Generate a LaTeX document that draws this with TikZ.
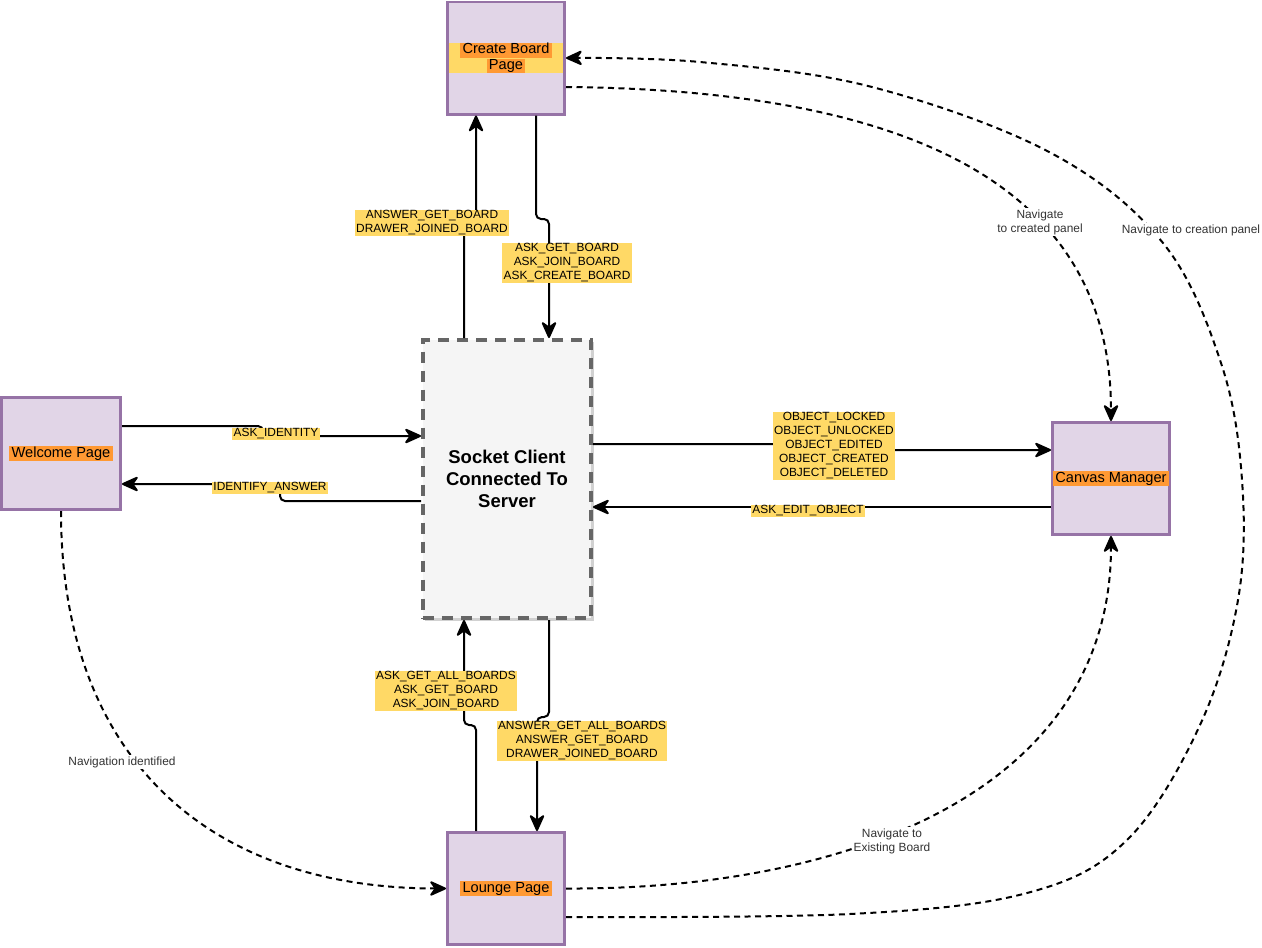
\documentclass[tikz,border=0pt]{standalone}
\usepackage{fontspec}
\setmainfont{Liberation Sans}
\usetikzlibrary{arrows.meta,shadows}

\definecolor{pagefill}{HTML}{E1D5E7}
\definecolor{pageline}{HTML}{9673A6}
\definecolor{hlorange}{HTML}{FF9933}
\definecolor{tagfill}{HTML}{FFD966}
\definecolor{sockfill}{HTML}{F5F5F5}
\definecolor{sockline}{HTML}{666666}
\definecolor{notetext}{HTML}{333333}

\newcommand\tagtext{\fontsize{11.9}{14}\selectfont}
\newcommand\pgtext{\fontsize{14.6}{14}\selectfont}
\newcommand\orangehl[1]{{\setlength{\fboxsep}{0pt}\colorbox{hlorange}{\rule[-3.6pt]{0pt}{14.4pt}\,#1\,}}}

\tikzset{
  tip/.tip={Stealth[length=19pt, width=17pt, inset=6pt, round=false]},
  page/.style={draw=pageline, fill=pagefill, line width=2.6pt,
    minimum width=117.4pt, minimum height=112.4pt, inner sep=0pt, font=\pgtext},
  socket/.style={draw=sockline, fill=sockfill, line width=3.6pt,
    dash pattern=on 11pt off 8pt, minimum width=168.4pt, minimum height=278.4pt,
    align=center, font=\fontsize{18.5}{22}\selectfont\bfseries,
    drop shadow={shadow xshift=2.5pt, shadow yshift=-2.5pt, opacity=0.18, fill=black}},
  conn/.style={line width=2pt, -tip},
  nav/.style={line width=2pt, dash pattern=on 6pt off 4.5pt, -tip},
  tag/.style={fill=tagfill, inner xsep=1.5pt, inner ysep=1pt, align=center, font=\tagtext},
  note/.style={fill=white, inner sep=1pt, align=center, font=\tagtext, text=notetext},
}

\begin{document}
\begin{tikzpicture}[x=1pt, y=-1pt]
  \useasboundingbox (0,0) rectangle (1262,948);

  % pages and the socket client
  \node[page] (cb) at (506,58)
    {{\setlength{\fboxsep}{0pt}\colorbox{tagfill}{\parbox{114pt}{\centering\orangehl{Create Board}\\\orangehl{Page}}}}};
  \node[page, minimum width=119.4pt] (wel) at (61,453.5) {\orangehl{Welcome Page}};
  \node[page] (cm) at (1111,478.5) {\orangehl{Canvas Manager}};
  \node[page] (lg) at (506,888.5) {\orangehl{Lounge Page}};
  \node[socket] (sock) at (507,479) {Socket Client\\Connected To\\Server};

  % socket messages (small rounded jogs, straight final segment for the tip)
  \draw[conn] (sock.north -| 464,0) [rounded corners=5pt] -- (464,223) -- (476,223) -- (476,200) [sharp corners] -- (cb.south -| 476,0);
  \draw[conn] (cb.south -| 536,0) [rounded corners=5pt] -- (536,219) -- (549,219) -- (549,240) [sharp corners] -- (sock.north -| 549,0);
  \draw[conn] (wel.east |- 0,426) [rounded corners=5pt] -- (263,426) -- (263,436) -- (300,436) [sharp corners] -- (sock.west |- 0,436);
  \draw[conn] (sock.west |- 0,501) [rounded corners=5pt] -- (280,501) -- (280,484) -- (250,484) [sharp corners] -- (wel.east |- 0,484);
  \draw[conn] (sock.east |- 0,444) [rounded corners=5pt] -- (834,444) -- (834,450) -- (900,450) [sharp corners] -- (cm.west |- 0,450);
  \draw[conn] (cm.west |- 0,507) -- (sock.east |- 0,507);
  \draw[conn] (lg.north -| 476,0) [rounded corners=5pt] -- (476,725) -- (464,725) -- (464,700) [sharp corners] -- (sock.south -| 464,0);
  \draw[conn] (sock.south -| 549,0) [rounded corners=5pt] -- (549,717) -- (537,717) -- (537,740) [sharp corners] -- (lg.north -| 537,0);

  \node[tag] (t1) at (432,223) {ANSWER\_GET\_BOARD\\DRAWER\_JOINED\_BOARD};
  \node[tag] (t2) at (567,263) {ASK\_GET\_BOARD\\ASK\_JOIN\_BOARD\\ASK\_CREATE\_BOARD};
  \node[tag] (t3) at (276,434) {ASK\_IDENTITY};
  \node[tag] (t4) at (270,488) {IDENTIFY\_ANSWER};
  \node[tag] (t5) at (834,446) {OBJECT\_LOCKED\\OBJECT\_UNLOCKED\\OBJECT\_EDITED\\OBJECT\_CREATED\\OBJECT\_DELETED};
  \node[tag] (t6) at (808,511) {ASK\_EDIT\_OBJECT};
  \node[tag] (t7) at (446,691) {ASK\_GET\_ALL\_BOARDS\\ASK\_GET\_BOARD\\ASK\_JOIN\_BOARD};
  \node[tag] (t8) at (582,741) {ANSWER\_GET\_ALL\_BOARDS\\ANSWER\_GET\_BOARD\\DRAWER\_JOINED\_BOARD};

  % navigation between pages
  \draw[nav] (wel.south) .. controls (61,755) and (205,888) .. (lg.west);
  \draw[nav] (cb.east |- 0,87) .. controls (900,90) and (1111,180) .. (cm.north);
  \draw[nav] (lg.east) .. controls (850,890) and (1111,790) .. (cm.south);
  \draw[nav] plot[smooth, tension=0.6] coordinates {
      (lg.east |- 0,917) (850,914) (1027,893) (1127,840) (1200,725) (1238,600)
      (1242,480) (1221,363) (1163,243) (1051,153) (872,87) (700,62) (cb.east)};

  \node[note] (n1) at (122,762) {Navigation identified};
  \node[note] (n2) at (1040,222) {Navigate\\to created panel};
  \node[note] (n3) at (1191,230) {Navigate to creation panel};
  \node[note] (n4) at (892,841) {Navigate to\\Existing Board};
\end{tikzpicture}
\end{document}
